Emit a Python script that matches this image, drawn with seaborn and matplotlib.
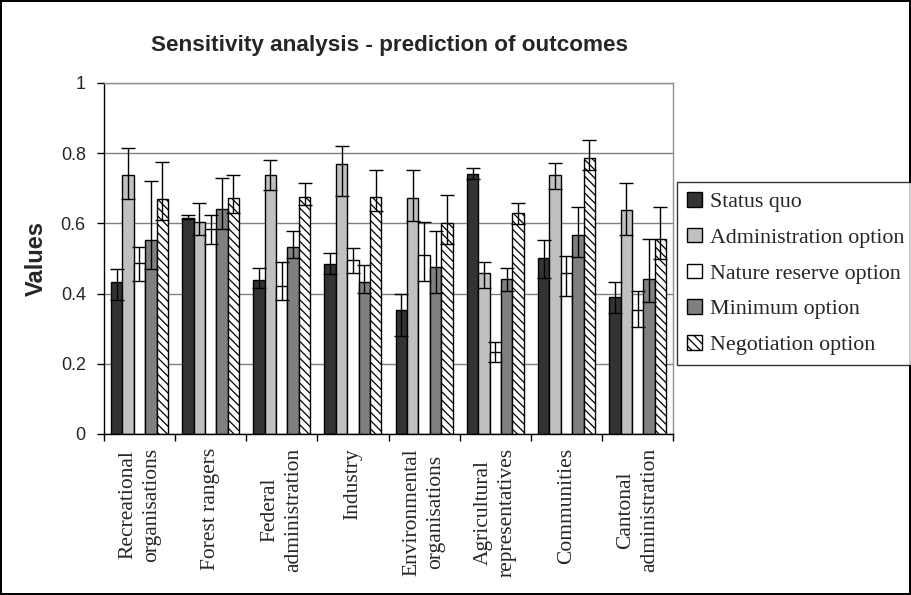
import matplotlib
matplotlib.use("Agg")
import matplotlib.pyplot as plt
from matplotlib.container import BarContainer
import seaborn as sns
import pandas as pd
import numpy as np

# --- Data ---
GROUPS = ["Recreational\norganisations", "Forest rangers", "Federal\nadministration",
          "Industry", "Environmental\norganisations", "Agricultural\nrepresentatives",
          "Communities", "Cantonal\nadministration"]
OPTIONS = ["Status quo", "Administration option", "Nature reserve option",
           "Minimum option", "Negotiation option"]

status_quo = [0.433, 0.616, 0.440, 0.485, 0.354, 0.742, 0.502, 0.389]
sq_low = [0.383, 0.613, 0.415, 0.455, 0.279, 0.725, 0.445, 0.346]
sq_high = [0.470, 0.624, 0.472, 0.515, 0.398, 0.759, 0.554, 0.433]

admin = [0.737, 0.603, 0.737, 0.769, 0.672, 0.459, 0.737, 0.637]
admin_low = [0.668, 0.567, 0.694, 0.677, 0.607, 0.415, 0.699, 0.567]
admin_high = [0.816, 0.659, 0.781, 0.821, 0.751, 0.490, 0.773, 0.716]

nature = [0.488, 0.584, 0.421, 0.497, 0.511, 0.234, 0.458, 0.354]
nature_low = [0.437, 0.541, 0.383, 0.458, 0.437, 0.205, 0.392, 0.305]
nature_high = [0.533, 0.624, 0.490, 0.529, 0.603, 0.261, 0.507, 0.406]

minimum = [0.554, 0.642, 0.532, 0.433, 0.476, 0.441, 0.568, 0.441]
min_low = [0.470, 0.584, 0.501, 0.401, 0.401, 0.406, 0.504, 0.376]
min_high = [0.720, 0.728, 0.577, 0.481, 0.577, 0.472, 0.646, 0.555]

negotiation = [0.668, 0.672, 0.676, 0.676, 0.602, 0.629, 0.786, 0.555]
neg_low = [0.611, 0.629, 0.651, 0.634, 0.542, 0.598, 0.752, 0.498]
neg_high = [0.774, 0.737, 0.716, 0.751, 0.681, 0.659, 0.838, 0.646]

VALUES = [status_quo, admin, nature, minimum, negotiation]
LOWS = [sq_low, admin_low, nature_low, min_low, neg_low]
HIGHS = [sq_high, admin_high, nature_high, min_high, neg_high]

FILLS = ["#333333", "#c0c0c0", "#ffffff", "#808080", "#ffffff"]
HATCHES = [None, None, None, None, "\\\\\\\\"]


def main():
    sns.set_theme(style="white")
    plt.rcParams["font.family"] = ["Liberation Sans", "DejaVu Sans"]
    plt.rcParams["hatch.linewidth"] = 0.9

    rows = []
    for opt, vals in zip(OPTIONS, VALUES):
        for g, v in zip(GROUPS, vals):
            rows.append({"group": g, "option": opt, "value": v})
    df = pd.DataFrame(rows)

    fig = plt.figure(figsize=(9.11, 5.95), dpi=100)
    fig.patch.set_edgecolor("black")
    fig.patch.set_linewidth(1.5)
    ax = fig.add_axes([0.114, 0.2706, 0.625, 0.590])

    sns.barplot(data=df, x="group", y="value", hue="option", order=GROUPS,
                hue_order=OPTIONS, errorbar=None, width=0.8, legend=False,
                palette=FILLS, saturation=1, ax=ax, zorder=2)

    bars = [c for c in ax.containers if isinstance(c, BarContainer)]

    # style bars and add the range error bars at each bar centre
    for i, cont in enumerate(bars):
        xs, tops = [], []
        for patch in cont.patches:
            patch.set_facecolor(FILLS[i])
            patch.set_edgecolor("black")
            patch.set_linewidth(1.0)
            if HATCHES[i]:
                patch.set_hatch(HATCHES[i])
            xs.append(patch.get_x() + patch.get_width() / 2)
            tops.append(patch.get_height())
        tops = np.array(tops)
        yerr = [tops - np.array(LOWS[i]), np.array(HIGHS[i]) - tops]
        ax.errorbar(xs, tops, yerr=yerr, fmt="none", ecolor="black",
                    elinewidth=1.0, capsize=5, capthick=1.0, zorder=3)

    ax.set_ylim(0, 1)
    ax.set_xlim(-0.5, len(GROUPS) - 0.5)
    ax.set_yticks(np.arange(0, 1.01, 0.2))
    ax.set_yticklabels(["0", "0.2", "0.4", "0.6", "0.8", "1"], fontsize=13)
    ax.yaxis.grid(True, color="#808080", linewidth=1.0)
    ax.set_axisbelow(True)

    # category labels at group centres, ticks between groups
    ax.set_xticks(range(len(GROUPS)))
    ax.set_xticklabels(GROUPS, rotation=90, family=["Liberation Serif"],
                       fontsize=15.5, ha="center", va="top",
                       multialignment="center", linespacing=1.35)
    ax.tick_params(axis="x", which="major", length=0, pad=10)
    ax.set_xticks(np.arange(-0.5, len(GROUPS), 1), minor=True)
    ax.tick_params(axis="x", which="minor", length=5, width=1, color="black",
                   direction="out", bottom=True)
    ax.tick_params(axis="y", length=5, width=1, color="black", direction="out",
                   left=True, pad=8)

    for side in ["left", "bottom"]:
        ax.spines[side].set_color("black")
        ax.spines[side].set_linewidth(1.0)
    for side in ["top", "right"]:
        ax.spines[side].set_color("#909090")
        ax.spines[side].set_linewidth(1.0)

    ax.set_xlabel("")
    ax.set_ylabel("Values", fontsize=17, fontweight="bold", labelpad=9)
    fig.text(0.428, 0.924, "Sensitivity analysis - prediction of outcomes",
             ha="center", va="center", fontsize=16.2, fontweight="bold")

    leg = fig.legend(bars, OPTIONS, loc="upper left",
                     bbox_to_anchor=(0.743, 0.694), frameon=True, fancybox=False,
                     prop={"family": "Liberation Serif", "size": 15.8},
                     handlelength=0.7, handleheight=0.65, handletextpad=0.35,
                     labelspacing=0.72, borderpad=0.45, borderaxespad=0)
    leg.get_frame().set_edgecolor("black")
    leg.get_frame().set_linewidth(1.0)

    fig.savefig("out.png", dpi=100)
    plt.close(fig)


if __name__ == "__main__":
    main()
